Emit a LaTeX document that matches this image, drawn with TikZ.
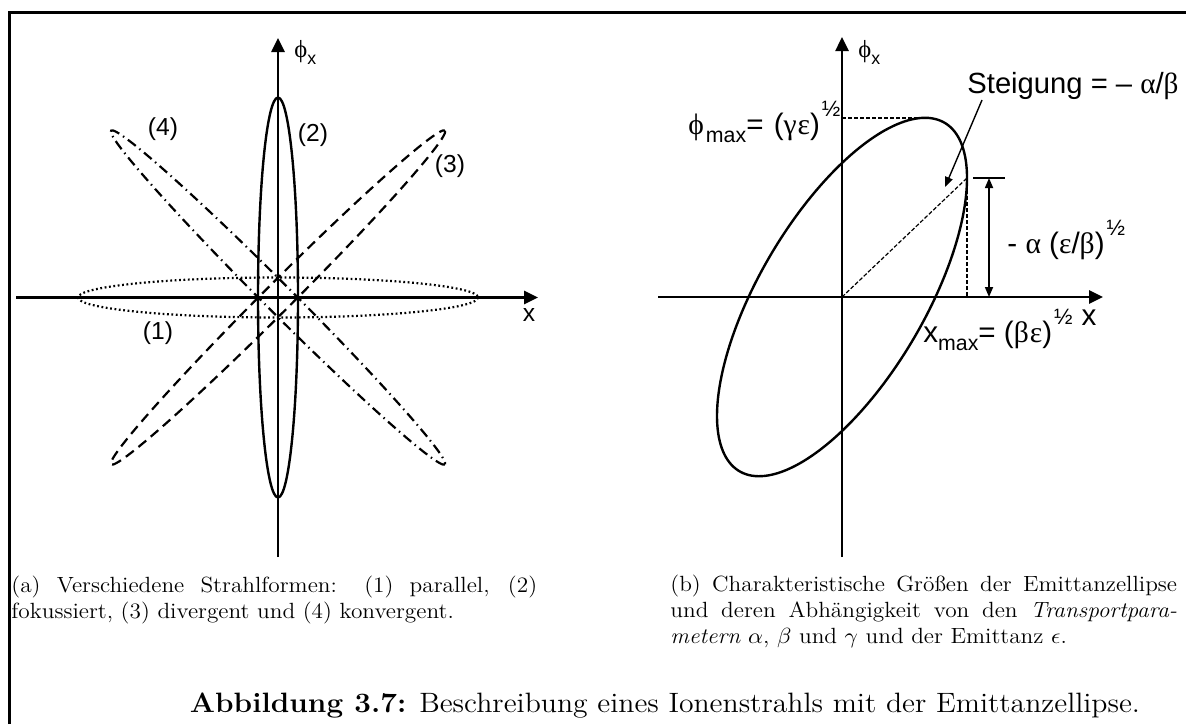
\documentclass[tikz,border=0pt]{standalone}
\usepackage{fontspec}
\usetikzlibrary{arrows.meta}
\newfontfamily\sansf{Liberation Sans}
\newfontfamily\grk{Liberation Serif}
\newcommand\lowsub[1]{\raisebox{-0.3em}{\scalebox{0.72}{#1}}}
\newcommand\highsup[1]{\kern1pt\raisebox{0.6em}{\scalebox{0.75}{#1}}}
\newcommand\captbox[2]{\scalebox{1.06}[1]{\parbox[t]{#1}{\fontsize{11}{13.2}\selectfont #2}}}
\tikzset{
  axisline/.style={line width=1.3pt,-{Triangle[length=7pt,width=6.5pt]}},
  ellsolid/.style={line width=1.2pt},
  elldashed/.style={line width=1.1pt,dash pattern=on 5pt off 3pt},
  elldashdot/.style={line width=1.1pt,dash pattern=on 5pt off 2.3pt on 0.7pt off 2.3pt},
  elldotted/.style={line width=1.1pt,dash pattern=on 0.9pt off 1.3pt},
  thindash/.style={line width=0.6pt,dash pattern=on 2pt off 1pt},
  lbl/.style={font=\sansf\fontsize{12.3}{14}\selectfont,inner sep=0pt},
  flbl/.style={font=\sansf\fontsize{14.8}{18}\selectfont,inner sep=0pt},
  stgl/.style={font=\sansf\fontsize{14.6}{18}\selectfont,inner sep=0pt},
  capt/.style={inner sep=0pt},
  frameline/.style={line width=1.5pt},
}
\begin{document}
\begin{tikzpicture}[x=0.5pt,y=-0.5pt]
\useasboundingbox (0,0) rectangle (1186,724);
% frame
\coordinate (fb) at (9,724);
\coordinate (fc) at (9,12);
\coordinate (fr) at (1186,12);
\draw[frameline] (fb) -- (fc) -- (fr);

% ---------- left panel ----------
\coordinate (Lo) at (278,297.5);
\coordinate (Lxl) at (16,297.5);
\coordinate (Lxr) at (538,297.5);
\coordinate (Lyb) at (278,557);
\coordinate (Lyt) at (278,38);
\draw[axisline] (Lxl) -- (Lxr);
\draw[axisline] (Lyb) -- (Lyt);
\draw[ellsolid] (Lo) ellipse [x radius=20, y radius=200];
\draw[elldotted] (Lo) ellipse [x radius=200, y radius=20];
\draw[elldashed, shift={(278,297.5)}, rotate=45] (0,0) ellipse [x radius=236, y radius=14];
\draw[elldashdot, shift={(278,297.5)}, rotate=-45] (0,0) ellipse [x radius=236, y radius=14];
\node[lbl] (l4) at (163,129) {(4)};
\node[lbl] (l2) at (313,135) {(2)};
\node[lbl] (l3) at (450,166) {(3)};
\node[lbl] (l1) at (158,333) {(1)};
\node[lbl, anchor=base west] (Lphi) at (294,57) {{\grk ϕ}\lowsub{x}};
\node[lbl] (Lx) at (529,315) {x};

% ---------- right panel ----------
\coordinate (Ro) at (842,297);
\coordinate (Rxl) at (658,297);
\coordinate (Rxr) at (1103,297);
\coordinate (Ryb) at (842,557);
\coordinate (Ryt) at (842,37);
\draw[axisline] (Rxl) -- (Rxr);
\draw[axisline] (Ryb) -- (Ryt);
\draw[ellsolid] plot[domain=0:360, samples=181, smooth] ({842+125*cos(\x)}, {297-119*cos(\x)-134*sin(\x)}) -- cycle;
\coordinate (Rtop) at (925,118);
\coordinate (Rtopax) at (842,118);
\coordinate (Rright) at (967,178);
\coordinate (Rrightax) at (967,297);
\draw[thindash] (Rtopax) -- (Rtop);
\draw[thindash] (Rright) -- (Rrightax);
\draw[thindash] (Ro) -- (Rright);
\coordinate (tickl) at (973,178);
\coordinate (tickr) at (1005,178);
\draw[line width=0.8pt] (tickl) -- (tickr);
\coordinate (dimT) at (989,178);
\coordinate (dimB) at (989,297);
\draw[line width=0.8pt,{Triangle[length=5pt,width=4pt]}-{Triangle[length=5pt,width=4pt]}] (dimT) -- (dimB);
\node[stgl, anchor=base west] (stg) at (967,93) {Steigung = – {\grk α}/{\grk β}};
\coordinate (arrS) at (982,100);
\coordinate (arrE) at (945,187);
\draw[line width=0.7pt,-{Triangle[length=5pt,width=4pt]}] (arrS) -- (arrE);
\node[flbl, anchor=base west] (phimax) at (688,134) {{\grk ϕ}\kern1pt\lowsub{max}= \kern1pt({\grk γ\kern0.5pt ε})\highsup{½}};
\node[flbl, anchor=base west] (xmax) at (923,342) {x\lowsub{max}= ({\grk β\kern0.5pt ε})\highsup{½}};
\node[flbl, anchor=base west] (alab) at (1007,253) {- {\grk α} ({\grk ε}/{\grk β})\highsup{½}};
\node[lbl, anchor=base west] (phiR) at (858,57) {{\grk ϕ}\lowsub{x}};
\node[flbl] (Rx) at (1089,318) {x};

% ---------- captions ----------
\node[capt, anchor=base west] (capa) at (11,592)
  {\captbox{248pt}{(a) Verschiedene Strahlformen: (1) parallel, (2)\linebreak fokussiert, (3) divergent und (4) konvergent.}};
\node[capt, anchor=base west] (capb) at (670,591)
  {\captbox{239pt}{(b) Charakteristische Größen der Emittanzellipse\linebreak und deren Abhängigkeit von den \textit{Transportpara-}\linebreak \textit{metern} $\alpha$, $\beta$ und $\gamma$ und der Emittanz $\epsilon$.}};
\node[capt, anchor=base] (capm) at (665,712)
  {\scalebox{1.06}[1]{\fontsize{14}{17}\selectfont\textbf{Abbildung 3.7:} Beschreibung eines Ionenstrahls mit der Emittanzellipse.}};
\end{tikzpicture}
\end{document}
